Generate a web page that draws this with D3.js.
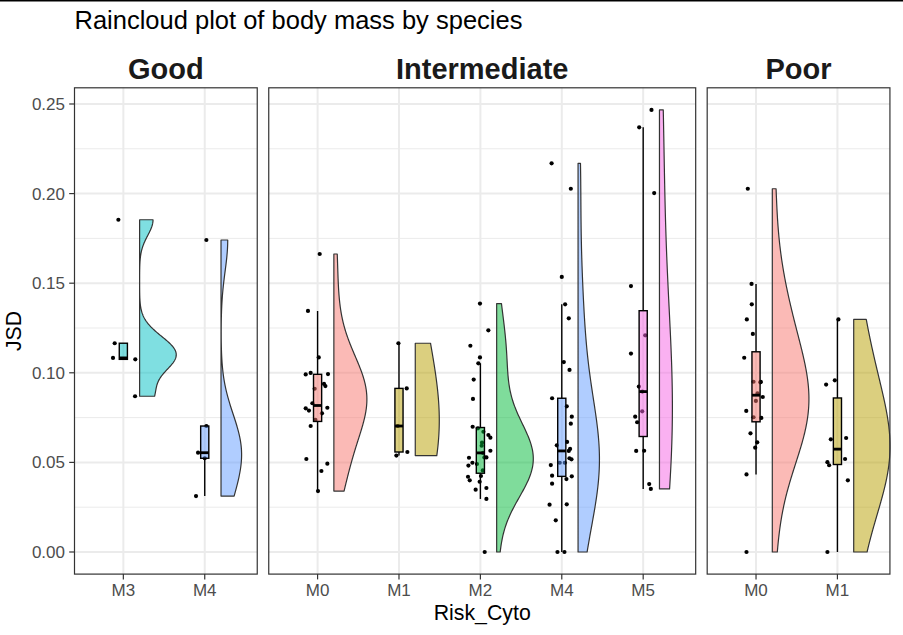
<!DOCTYPE html>
<html><head><meta charset="utf-8">
<script src="https://cdn.jsdelivr.net/npm/d3@7"></script>
<style>body{margin:0;background:#fff}svg{display:block}</style>
</head><body><svg id="c" width="903" height="635"></svg>
<script>
// ---------------- data ----------------
const panelNames = ["Good", "Intermediate", "Poor"];
const goodCats = ["M3", "M4"];
const intermediateCats = ["M0", "M1", "M2", "M4", "M5"];
const poorCats = ["M0", "M1"];

const good_M3 = [0.1854, 0.1165, 0.1083, 0.1075, 0.0869];
const good_M3_jitter = [-0.061, -0.106, -0.127, 0.147, 0.144];
const good_M4 = [0.1741, 0.0703, 0.0554, 0.0312, 0.0523];
const good_M4_jitter = [0.02, 0.02, -0.082, -0.107, 0.0];

const inter_M0 = [0.1663, 0.1345, 0.1086, 0.0991, 0.0999, 0.0993, 0.0938, 0.0926, 0.0911, 0.0830,
                  0.0802, 0.0789, 0.0805, 0.0774, 0.0737, 0.0703, 0.0519, 0.0493, 0.0452, 0.0340];
const inter_M0_jitter = [0.026, -0.118, 0.014, -0.146, -0.085, 0.128, 0.079, 0.096, -0.036, -0.064,
                  -0.146, -0.106, 0.120, 0.054, -0.027, -0.085, -0.138, 0.120, 0.047, 0.005];
const inter_M1 = [0.1165, 0.0913, 0.0538, 0.0558, 0.0703];
const inter_M1_jitter = [-0.007, 0.095, -0.032, 0.103, -0.015];
const inter_M2 = [0.1386, 0.1237, 0.1151, 0.1086, 0.1053, 0.0962, 0.0854, 0.0699, 0.0671, 0.0653,
                  0.0638, 0.0593, 0.0565, 0.0553, 0.0528, 0.0528, 0.0526, 0.0498, 0.0482, 0.0491,
                  0.0424, 0.0420, 0.0400, 0.0392, 0.0357, 0.0348, 0.0296, 0.0000, 0.0455, 0.0610, 0.0690];
const inter_M2_jitter = [-0.005, 0.098, -0.123, -0.005, -0.025, -0.082, -0.091, -0.095, 0.037, 0.098,
                  0.123, 0.016, 0.123, 0.032, 0.074, 0.049, -0.140, -0.098, -0.147, -0.042,
                  0.007, -0.152, -0.131, -0.009, 0.074, -0.058, 0.074, 0.053, 0.030, 0.020, -0.030];
const inter_M4 = [0.2169, 0.2027, 0.1535, 0.1382, 0.1304, 0.1060, 0.1016, 0.0858, 0.0813, 0.0755,
                  0.0716, 0.0614, 0.0595, 0.0575, 0.0564, 0.0517, 0.0523, 0.0498, 0.0498, 0.0485,
                  0.0426, 0.0422, 0.0407, 0.0381, 0.0264, 0.0266, 0.0177, 0.0000, 0.0000];
const inter_M4_jitter = [-0.125, 0.111, 0.000, 0.041, 0.086, 0.025, 0.095, -0.119, 0.061, 0.123,
                  0.111, 0.065, -0.061, 0.102, 0.086, 0.119, 0.094, -0.025, 0.037, -0.135,
                  -0.119, 0.123, 0.057, -0.119, -0.150, 0.061, -0.074, -0.053, 0.033];
const inter_M5 = [0.2467, 0.2370, 0.2003, 0.1484, 0.1209, 0.1107, 0.0923, 0.0785, 0.0755, 0.0724,
                  0.0564, 0.0565, 0.0379, 0.0352, 0.0895];
const inter_M5_jitter = [0.102, -0.049, 0.135, -0.150, 0.025, -0.150, -0.053, -0.012, -0.098, -0.074,
                  -0.086, 0.012, 0.074, 0.094, -0.010];

const poor_M0 = [0.2027, 0.1496, 0.1382, 0.1298, 0.1217, 0.1084, 0.0950, 0.0949, 0.0947, 0.0885,
                 0.0865, 0.0843, 0.0787, 0.0752, 0.0748, 0.0662, 0.0612, 0.0582, 0.0433, 0.0000];
const poor_M0_jitter = [-0.101, -0.055, -0.052, -0.113, -0.039, -0.145, -0.031, 0.059, 0.052, 0.018,
                 0.083, -0.002, -0.120, -0.031, 0.065, -0.068, 0.015, -0.010, -0.117, -0.117];
const poor_M1 = [0.1298, 0.0934, 0.0958, 0.0629, 0.0636, 0.0501, 0.0484, 0.0519, 0.0400, 0.0000];
const poor_M1_jitter = [0.012, -0.139, -0.032, -0.081, 0.107, -0.123, -0.102, 0.094, 0.128, -0.123];

const yTicks = [0.00, 0.05, 0.10, 0.15, 0.20, 0.25];
const yTickLabels = ["0.00", "0.05", "0.10", "0.15", "0.20", "0.25"];
const titleText = "Raincloud plot of body mass by species";
const xTitleText = "Risk_Cyto";
const yTitleText = "JSD";

// ---------------- styling / layout ----------------
const catColors = {M0: "#F8766D", M1: "#B79F00", M2: "#00BA38", M3: "#00BFC4", M4: "#619CFF", M5: "#F564E3"};
const panels = [
  {name: panelNames[0], cats: goodCats, values: [good_M3, good_M4], jitter: [good_M3_jitter, good_M4_jitter]},
  {name: panelNames[1], cats: intermediateCats, values: [inter_M0, inter_M1, inter_M2, inter_M4, inter_M5],
   jitter: [inter_M0_jitter, inter_M1_jitter, inter_M2_jitter, inter_M4_jitter, inter_M5_jitter]},
  {name: panelNames[2], cats: poorCats, values: [poor_M0, poor_M1], jitter: [poor_M0_jitter, poor_M1_jitter]}
];

const unit = 81.4, plotLeft = 74.5, gap = 11.5;
const panelTop = 87.8, panelBottom = 574.1;
const expL = 0.6, expR = 0.645;
const nudge = 0.2, violinHalf = 0.45, boxHalf = 0.05, adjust = 2;
const FONT = "Liberation Sans, Arial, sans-serif";

const svg = d3.select("#c");
svg.append("rect").attr("width", 903).attr("height", 635).attr("fill", "#fff");
svg.append("rect").attr("x", 0).attr("y", 0).attr("width", 903).attr("height", 1.5).attr("fill", "#000");

const allVals = panels.flatMap(p => p.values.flat());
const ext = d3.extent(allVals);
const pad = (ext[1] - ext[0]) * 0.05;
const y = d3.scaleLinear().domain([ext[0] - pad, ext[1] + pad]).range([panelBottom, panelTop]);

function nrd0(s) {
  const n = s.length;
  const sd = d3.deviation(s);
  const iqr = d3.quantile(s, 0.75) - d3.quantile(s, 0.25);
  let lo = Math.min(sd, iqr / 1.34);
  if (!(lo > 0)) lo = sd > 0 ? sd : 1;
  return 0.9 * lo * Math.pow(n, -0.2);
}
function kde(vals) {
  const s = vals.slice().sort(d3.ascending);
  const n = s.length;
  const bw = nrd0(s) * adjust;
  const N = 256;
  return d3.range(N).map(i => {
    const g = s[0] + (s[n - 1] - s[0]) * i / (N - 1);
    const d = d3.sum(s, x => Math.exp(-0.5 * ((g - x) / bw) ** 2)) / (n * bw * Math.sqrt(2 * Math.PI));
    return {v: g, d: d};
  });
}
function boxStats(vals) {
  const s = vals.slice().sort(d3.ascending);
  const q1 = d3.quantile(s, 0.25), med = d3.quantile(s, 0.5), q3 = d3.quantile(s, 0.75);
  const iqr = q3 - q1;
  const lo = d3.min(s.filter(v => v >= q1 - 1.5 * iqr));
  const hi = d3.max(s.filter(v => v <= q3 + 1.5 * iqr));
  return {q1, med, q3, lo, hi};
}

const minor = d3.range(yTicks.length - 1).map(i => (yTicks[i] + yTicks[i + 1]) / 2);

let left = plotLeft;
const panelExtents = [];
panels.forEach(p => {
  const n = p.cats.length;
  const width = (n - 1 + expL + expR) * unit;
  const x = d3.scaleLinear().domain([1 - expL, n + expR]).range([left, left + width]);
  panelExtents.push([left, left + width]);
  const g = svg.append("g");
  g.append("rect").attr("x", left).attr("y", panelTop).attr("width", width).attr("height", panelBottom - panelTop).attr("fill", "#fff");
  g.selectAll(".mn").data(minor).join("line")
    .attr("x1", left).attr("x2", left + width).attr("y1", d => y(d)).attr("y2", d => y(d))
    .attr("stroke", "#EBEBEB").attr("stroke-width", 1);
  g.selectAll(".mj").data(yTicks).join("line")
    .attr("x1", left).attr("x2", left + width).attr("y1", d => y(d)).attr("y2", d => y(d))
    .attr("stroke", "#EBEBEB").attr("stroke-width", 2);
  g.selectAll(".vx").data(p.cats).join("line")
    .attr("x1", (d, i) => x(i + 1)).attr("x2", (d, i) => x(i + 1)).attr("y1", panelTop).attr("y2", panelBottom)
    .attr("stroke", "#EBEBEB").attr("stroke-width", 2);

  const dens = p.values.map(kde);
  const maxD = d3.max(dens.flat(), d => d.d);
  dens.forEach((dd, i) => {
    const c = i + 1;
    const area = d3.area()
      .y(d => y(d.v))
      .x0(x(c + nudge))
      .x1(d => x(c + nudge + violinHalf * d.d / maxD));
    g.append("path").attr("d", area(dd) + "Z")
      .attr("fill", catColors[p.cats[i]]).attr("fill-opacity", 0.5)
      .attr("stroke", "#333333").attr("stroke-width", 1.2).attr("stroke-linejoin", "round");
  });
  p.values.forEach((vals, i) => {
    const c = i + 1;
    g.selectAll(null).data(vals.map((v, k) => ({v, j: p.jitter[i][k]}))).join("circle")
      .attr("cx", d => x(c + d.j)).attr("cy", d => y(d.v)).attr("r", 2.1).attr("fill", "#000");
  });
  p.values.forEach((vals, i) => {
    const c = i + 1;
    const b = boxStats(vals);
    g.append("line").attr("x1", x(c)).attr("x2", x(c)).attr("y1", y(b.q3)).attr("y2", y(b.hi))
      .attr("stroke", "#000").attr("stroke-width", 1.4);
    g.append("line").attr("x1", x(c)).attr("x2", x(c)).attr("y1", y(b.q1)).attr("y2", y(b.lo))
      .attr("stroke", "#000").attr("stroke-width", 1.4);
    g.append("rect").attr("x", x(c - boxHalf)).attr("width", x(c + boxHalf) - x(c - boxHalf))
      .attr("y", y(b.q3)).attr("height", y(b.q1) - y(b.q3))
      .attr("fill", catColors[p.cats[i]]).attr("fill-opacity", 0.5)
      .attr("stroke", "#000").attr("stroke-width", 1.4);
    g.append("line").attr("x1", x(c - boxHalf)).attr("x2", x(c + boxHalf)).attr("y1", y(b.med)).attr("y2", y(b.med))
      .attr("stroke", "#000").attr("stroke-width", 2.8);
  });
  g.append("rect").attr("x", left).attr("y", panelTop).attr("width", width).attr("height", panelBottom - panelTop)
    .attr("fill", "none").attr("stroke", "#333333").attr("stroke-width", 1.2);
  const xa = svg.append("g");
  xa.selectAll("line").data(p.cats).join("line")
    .attr("x1", (d, i) => x(i + 1)).attr("x2", (d, i) => x(i + 1)).attr("y1", panelBottom).attr("y2", panelBottom + 5.3)
    .attr("stroke", "#333333").attr("stroke-width", 1.2);
  xa.selectAll("text").data(p.cats).join("text")
    .attr("x", (d, i) => x(i + 1)).attr("y", 595.5).attr("text-anchor", "middle")
    .attr("font-family", FONT).attr("font-size", 17).attr("fill", "#4D4D4D")
    .text(d => d);
  svg.append("text").attr("x", left + width / 2).attr("y", 78.5).attr("text-anchor", "middle")
    .attr("font-family", FONT).attr("font-size", 29).attr("font-weight", "bold")
    .attr("fill", "#1A1A1A").text(p.name);
  left += width + gap;
});

const ya = svg.append("g");
ya.selectAll("line").data(yTicks).join("line")
  .attr("x1", plotLeft - 5.3).attr("x2", plotLeft).attr("y1", d => y(d)).attr("y2", d => y(d))
  .attr("stroke", "#333333").attr("stroke-width", 1.2);
ya.selectAll("text").data(yTicks).join("text")
  .attr("x", plotLeft - 9.5).attr("y", d => y(d) + 6).attr("text-anchor", "end")
  .attr("font-family", FONT).attr("font-size", 17).attr("fill", "#4D4D4D")
  .text((d, i) => yTickLabels[i]);

const plotRight = panelExtents[panelExtents.length - 1][1];
svg.append("text").attr("x", (plotLeft + plotRight) / 2).attr("y", 620).attr("text-anchor", "middle")
  .attr("font-family", FONT).attr("font-size", 21.3).attr("fill", "#000")
  .text(xTitleText);
svg.append("text").attr("transform", `translate(21,${(panelTop + panelBottom) / 2}) rotate(-90)`)
  .attr("text-anchor", "middle")
  .attr("font-family", FONT).attr("font-size", 21.3).attr("fill", "#000")
  .text(yTitleText);
svg.append("text").attr("x", plotLeft).attr("y", 29)
  .attr("font-family", FONT).attr("font-size", 25.5).attr("fill", "#000")
  .text(titleText);
</script></body></html>
